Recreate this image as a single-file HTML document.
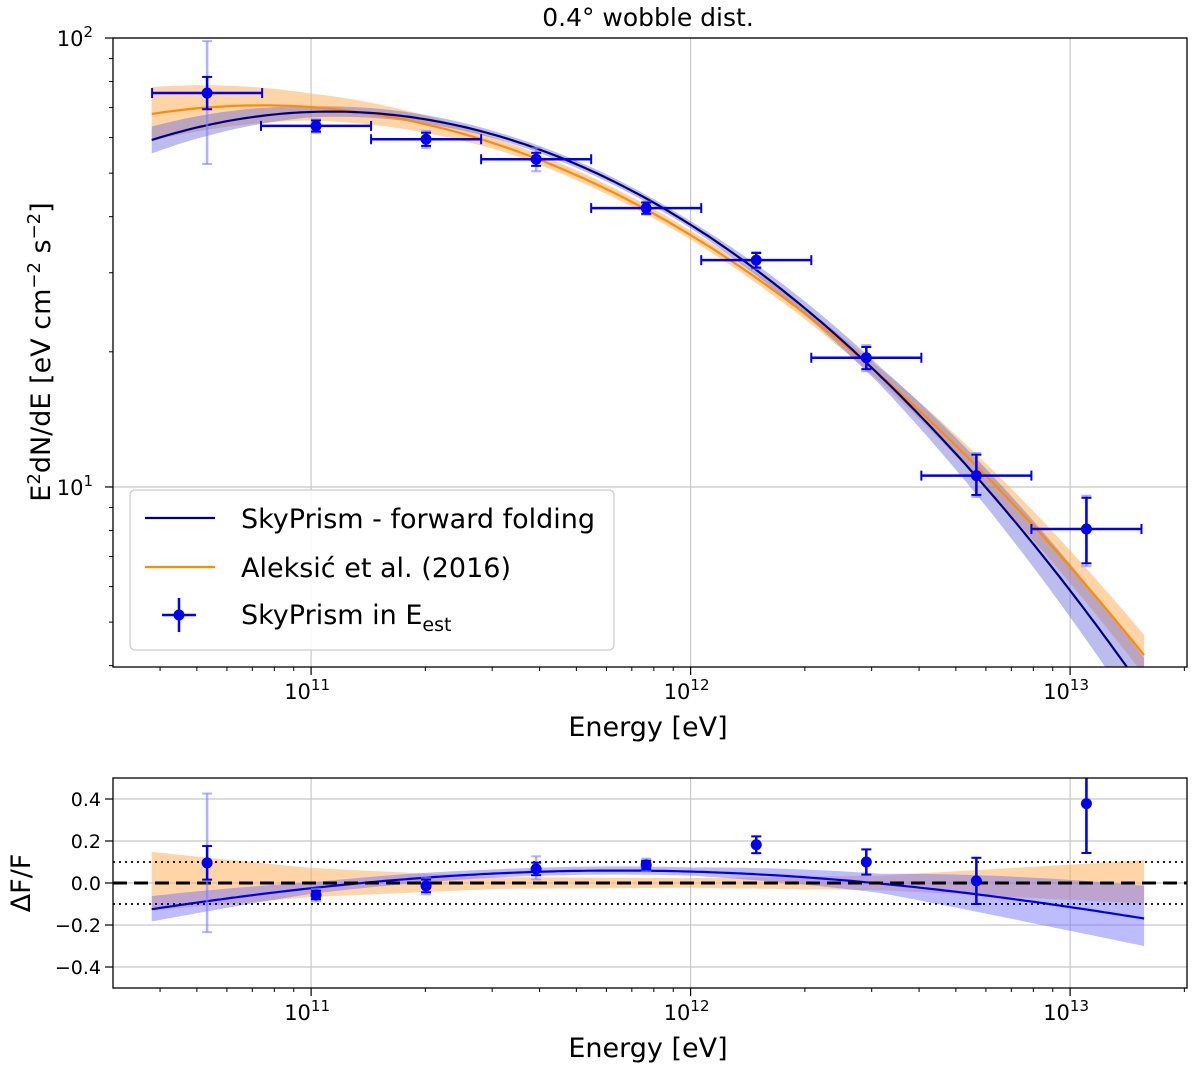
<!DOCTYPE html>
<html><head><meta charset="utf-8"><style>
html,body{margin:0;padding:0;background:#fff}
svg{display:block;font-family:"DejaVu Sans","Liberation Sans",sans-serif}
</style></head><body>
<svg id="fig" width="1200" height="1075" viewBox="0 0 1200 1075" xmlns="http://www.w3.org/2000/svg"></svg>
<script>
// ---- data ----
const pointLogE = [10.726, 11.013, 11.303, 11.593, 11.883, 12.173, 12.463, 12.753, 13.043];
const binHalfDec = [0.145, 0.145, 0.145, 0.145, 0.145, 0.145, 0.145, 0.145, 0.145];
const fluxVals = [75.4, 63.7, 59.5, 53.7, 41.8, 32.0, 19.4, 10.6, 8.06];
const fluxErrStatUp = [6.5, 1.8, 2.0, 1.8, 1.2, 1.2, 1.1, 1.2, 1.4];
const fluxErrStatLo = [6.0, 1.8, 2.0, 1.8, 1.2, 1.2, 1.1, 1.0, 1.3];
const fluxErrSysUp = [23, 2.2, 2.6, 3.2, 1.4, 1.4, 1.3, 1.3, 1.5];
const fluxErrSysLo = [23, 2.2, 2.6, 3.2, 1.4, 1.4, 1.3, 1.1, 1.4];
const residVals = [0.096, -0.057, -0.014, 0.067, 0.086, 0.182, 0.10, 0.01, 0.378];
const residErr = [0.08, 0.02, 0.03, 0.03, 0.02, 0.04, 0.06, 0.11, 0.235];
const residSysUp = [0.33, 0.03, 0.04, 0.06, 0.03, 0.04, 0.06, 0.11, 0.235];
const residSysLo = [0.33, 0.03, 0.04, 0.05, 0.03, 0.04, 0.06, 0.11, 0.235];
const navyParams = [1.584, -0.533, -0.2817];
const orangeParams = [1.561, -0.512, -0.2268];
const bandL = [-1.42, -1.0, -0.5, 0, 0.5, 1.2];
const navyBandW = [0.03, 0.012, 0.008, 0.008, 0.02, 0.075];
const orangeBandW = [0.06, 0.03, 0.012, 0.01, 0.015, 0.045];
const xTickPowers = [11, 12, 13];
const yTickPowers = [1, 2];
const residTicks = [0.4, 0.2, 0.0, -0.2, -0.4];
const modelRange = [10.58, 13.195];

const svg = document.getElementById('fig');
const NS = 'http://www.w3.org/2000/svg';
function el(tag, attrs, parent, text) {
  const e = document.createElementNS(NS, tag);
  for (const k in attrs) e.setAttribute(k, attrs[k]);
  if (text !== undefined) e.textContent = text;
  (parent || svg).appendChild(e);
  return e;
}
const X0 = 113, X1 = 1187, XD0 = 10.478, XD1 = 13.308;
const xs = lg => X0 + (lg - XD0) / (XD1 - XD0) * (X1 - X0);
const T0 = 38, T1 = 667, YD0 = 2, YD1 = 0.599;
const ys = lg => T0 + (YD0 - lg) / (YD0 - YD1) * (T1 - T0);
const B0 = 778, B1 = 988;
const yr = v => B0 + (0.5 - v) / 1.0 * (B1 - B0);
const model = (p, lgE) => { const L = lgE - 12; return p[0] + p[1] * L + p[2] * L * L; };
function interp(xa, ya, x) {
  if (x <= xa[0]) return ya[0];
  for (let i = 1; i < xa.length; i++) if (x <= xa[i]) { const t = (x - xa[i-1]) / (xa[i] - xa[i-1]); return ya[i-1] + t * (ya[i] - ya[i-1]); }
  return ya[ya.length - 1];
}
const samples = []; for (let i = 0; i <= 200; i++) samples.push(modelRange[0] + (modelRange[1] - modelRange[0]) * i / 200);

const defs = el('defs', {});
const c1 = el('clipPath', {id: 'clipTop'}, defs); el('rect', {x: X0, y: T0, width: X1 - X0, height: T1 - T0}, c1);
const c2 = el('clipPath', {id: 'clipBot'}, defs); el('rect', {x: X0, y: B0, width: X1 - X0, height: B1 - B0}, c2);

function drawXAxis(tp, bot, name) {
  const g = el('g', {}, svg);
   
  for (const p of xTickPowers) {
    const x = xs(p);
    el('line', {x1: x, x2: x, y1: tp, y2: bot, stroke: '#c8c8c8', 'stroke-width': 1.2}, g);
    el('line', {x1: x, x2: x, y1: bot, y2: bot + 8, stroke: '#000', 'stroke-width': 1.2}, g);
    const t = el('text', {x: x - 4, y: bot + 32, 'font-size': 21, 'text-anchor': 'middle'}, g, '10');
    el('tspan', {dy: -9, 'font-size': 15}, t, String(p));
  }
  for (let d = 10; d <= 13; d++) for (let m = 2; m <= 9; m++) {
    const lg = d + Math.log10(m); if (lg < XD0 || lg > XD1) continue;
    const x = xs(lg);
    el('line', {x1: x, x2: x, y1: bot, y2: bot + 4, stroke: '#000', 'stroke-width': 1}, g);
  }
}

// ---------- TOP PANEL ----------
drawXAxis(T0, T1, 'spectrum');
for (const p of yTickPowers) {
  const y = ys(p);
  el('line', {x1: X0, x2: X1, y1: y, y2: y, stroke: '#c8c8c8', 'stroke-width': 1.2});
  el('line', {x1: X0 - 8, x2: X0, y1: y, y2: y, stroke: '#000', 'stroke-width': 1.2});
  const t = el('text', {x: X0 - 20, y: y + 8, 'font-size': 21, 'text-anchor': 'end'}, svg, '10');
  el('tspan', {dy: -9, 'font-size': 15}, t, String(p));
}
for (let d = 0; d <= 1; d++) for (let m = 2; m <= 9; m++) {
  const lg = d + Math.log10(m); if (lg < YD1 || lg > YD0) continue;
  const y = ys(lg); el('line', {x1: X0 - 4, x2: X0, y1: y, y2: y, stroke: '#000', 'stroke-width': 1});
}
const gTop = el('g', {'clip-path': 'url(#clipTop)'});


function bandPath(p, W, yfun, rel) {
  const up = samples.map(l => [xs(l), yfun(rel ? (model(p, l) - rel(l)) : model(p, l), +interp(bandL, W, l - 12))]);
  const lo = samples.map(l => [xs(l), yfun(rel ? (model(p, l) - rel(l)) : model(p, l), -interp(bandL, W, l - 12))]).reverse();
  return 'M' + up.concat(lo).map(q => q[0].toFixed(1) + ',' + q[1].toFixed(1)).join('L') + 'Z';
}
const logY = (m, w) => ys(m + w);
let e;
e = el('path', {d: bandPath(orangeParams, orangeBandW, logY), fill: '#ffa94d', opacity: 0.5}, gTop);
 
e = el('path', {d: bandPath(navyParams, navyBandW, logY), fill: '#6b6bd6', opacity: 0.45}, gTop);
 
const linePath = yfun => 'M' + samples.map(l => xs(l).toFixed(1) + ',' + yfun(l).toFixed(1)).join('L');
e = el('path', {d: linePath(l => ys(model(orangeParams, l))), fill: 'none', stroke: '#ff8c00', 'stroke-width': 2.2}, gTop);
 
e = el('path', {d: linePath(l => ys(model(navyParams, l))), fill: 'none', stroke: '#00007f', 'stroke-width': 2.2}, gTop);
 
pointLogE.forEach((lg, i) => {
  const g = el('g', {}, gTop);
   
  const x = xs(lg), y = ys(Math.log10(fluxVals[i]));
  const ysu = ys(Math.log10(fluxVals[i] + fluxErrSysUp[i])), ysl = ys(Math.log10(fluxVals[i] - fluxErrSysLo[i]));
  el('line', {x1: x, x2: x, y1: ysu, y2: ysl, stroke: '#8080ff', 'stroke-width': 2.5, opacity: 0.6}, g);
  el('line', {x1: x - 5, x2: x + 5, y1: ysu, y2: ysu, stroke: '#8080ff', 'stroke-width': 2, opacity: 0.6}, g);
  el('line', {x1: x - 5, x2: x + 5, y1: ysl, y2: ysl, stroke: '#8080ff', 'stroke-width': 2, opacity: 0.6}, g);
  const yu = ys(Math.log10(fluxVals[i] + fluxErrStatUp[i])), yl = ys(Math.log10(fluxVals[i] - fluxErrStatLo[i]));
  el('line', {x1: x, x2: x, y1: yu, y2: yl, stroke: '#0000ee', 'stroke-width': 2.5}, g);
  el('line', {x1: x - 5, x2: x + 5, y1: yu, y2: yu, stroke: '#0000ee', 'stroke-width': 2}, g);
  el('line', {x1: x - 5, x2: x + 5, y1: yl, y2: yl, stroke: '#0000ee', 'stroke-width': 2}, g);
  const xl = xs(lg - binHalfDec[i]), xr = xs(lg + binHalfDec[i]);
  el('line', {x1: xl, x2: xr, y1: y, y2: y, stroke: '#0000ee', 'stroke-width': 2.5}, g);
  el('line', {x1: xl, x2: xl, y1: y - 5, y2: y + 5, stroke: '#0000ee', 'stroke-width': 2}, g);
  el('line', {x1: xr, x2: xr, y1: y - 5, y2: y + 5, stroke: '#0000ee', 'stroke-width': 2}, g);
  el('circle', {cx: x, cy: y, r: 5.5, fill: '#0000ee'}, g);
});
el('rect', {x: X0, y: T0, width: X1 - X0, height: T1 - T0, fill: 'none', stroke: '#000', 'stroke-width': 1.3});
e = el('text', {x: 648, y: 26, 'font-size': 25, 'text-anchor': 'middle'}, svg, '0.4° wobble dist.');
 
e = el('text', {x: 648, y: 736, 'font-size': 27, 'text-anchor': 'middle'}, svg, 'Energy [eV]');
 
e = el('text', {x: 0, y: 0, 'font-size': 27, 'text-anchor': 'middle', transform: 'translate(50,352) rotate(-90)'}, svg);
 
el('tspan', {}, e, 'E'); el('tspan', {dy: -10, 'font-size': 18}, e, '2'); el('tspan', {dy: 10}, e, 'dN/dE [eV cm');
el('tspan', {dy: -10, 'font-size': 18}, e, '−2'); el('tspan', {dy: 10}, e, ' s'); el('tspan', {dy: -10, 'font-size': 18}, e, '−2'); el('tspan', {dy: 10}, e, ']');
const lgd = el('g', {});  
el('rect', {x: 130, y: 490, width: 484, height: 160, rx: 5, fill: '#fff', 'fill-opacity': 0.85, stroke: '#ccc', 'stroke-width': 1.2}, lgd);
let le = el('g', {}, lgd);  
el('line', {x1: 145, x2: 215, y1: 518, y2: 518, stroke: '#00007f', 'stroke-width': 2.2}, le);
el('text', {x: 241, y: 528, 'font-size': 27}, le, 'SkyPrism - forward folding');
le = el('g', {}, lgd);  
el('line', {x1: 145, x2: 215, y1: 567, y2: 567, stroke: '#ff8c00', 'stroke-width': 2.2}, le);
el('text', {x: 241, y: 577, 'font-size': 27}, le, 'Aleksić et al. (2016)');
le = el('g', {}, lgd);  
el('line', {x1: 162, x2: 196, y1: 615, y2: 615, stroke: '#0000ee', 'stroke-width': 2.5}, le);
el('line', {x1: 179, x2: 179, y1: 598, y2: 632, stroke: '#0000ee', 'stroke-width': 2.5}, le);
el('circle', {cx: 179, cy: 615, r: 5.5, fill: '#0000ee'}, le);
const lt = el('text', {x: 241, y: 624, 'font-size': 27}, le, 'SkyPrism in E');
el('tspan', {dy: 7, 'font-size': 19}, lt, 'est');

// ---------- BOTTOM PANEL ----------
drawXAxis(B0, B1, 'residual');
for (const v of residTicks) {
  const y = yr(v);
  el('line', {x1: X0, x2: X1, y1: y, y2: y, stroke: '#c8c8c8', 'stroke-width': 1.2});
  el('line', {x1: X0 - 8, x2: X0, y1: y, y2: y, stroke: '#000', 'stroke-width': 1.2});
  el('text', {x: X0 - 12, y: y + 7, 'font-size': 19, 'text-anchor': 'end'}, svg, (v < 0 ? '−' : '') + Math.abs(v).toFixed(1));
}
const gBot = el('g', {'clip-path': 'url(#clipBot)'});


const relO = l => model(orangeParams, l);
const resY = (m, w) => yr(Math.pow(10, m + w) - 1);
e = el('path', {d: bandPath(orangeParams, orangeBandW, resY, relO), fill: '#ffa94d', opacity: 0.5}, gBot);
 
e = el('path', {d: bandPath(navyParams, navyBandW, resY, relO), fill: '#6b6bff', opacity: 0.45}, gBot);
 
e = el('path', {d: linePath(l => yr(Math.pow(10, model(navyParams, l) - relO(l)) - 1)), fill: 'none', stroke: '#0000ee', 'stroke-width': 2.2}, gBot);
 
for (const v of [0.1, -0.1]) el('line', {x1: X0, x2: X1, y1: yr(v), y2: yr(v), stroke: '#000', 'stroke-width': 1.8, 'stroke-dasharray': '2,4'}, gBot);
e = el('line', {x1: X0, x2: X1, y1: yr(0), y2: yr(0), stroke: '#000', 'stroke-width': 3, 'stroke-dasharray': '14,7'}, gBot);
 
pointLogE.forEach((lgE, i) => {
  const g = el('g', {}, gBot);
   
  const x = xs(lgE), y = yr(residVals[i]);
  const su = yr(residVals[i] + residSysUp[i]), sl = yr(residVals[i] - residSysLo[i]);
  el('line', {x1: x, x2: x, y1: su, y2: sl, stroke: '#8080ff', 'stroke-width': 2.5, opacity: 0.6}, g);
  el('line', {x1: x - 5, x2: x + 5, y1: su, y2: su, stroke: '#8080ff', 'stroke-width': 2, opacity: 0.6}, g);
  el('line', {x1: x - 5, x2: x + 5, y1: sl, y2: sl, stroke: '#8080ff', 'stroke-width': 2, opacity: 0.6}, g);
  const u = yr(residVals[i] + residErr[i]), d = yr(residVals[i] - residErr[i]);
  el('line', {x1: x, x2: x, y1: u, y2: d, stroke: '#0000ee', 'stroke-width': 2.5}, g);
  el('line', {x1: x - 5, x2: x + 5, y1: u, y2: u, stroke: '#0000ee', 'stroke-width': 2}, g);
  el('line', {x1: x - 5, x2: x + 5, y1: d, y2: d, stroke: '#0000ee', 'stroke-width': 2}, g);
  el('circle', {cx: x, cy: y, r: 5.5, fill: '#0000ee'}, g);
});
el('rect', {x: X0, y: B0, width: X1 - X0, height: B1 - B0, fill: 'none', stroke: '#000', 'stroke-width': 1.3});
e = el('text', {x: 648, y: 1057, 'font-size': 27, 'text-anchor': 'middle'}, svg, 'Energy [eV]');
 
e = el('text', {x: 0, y: 0, 'font-size': 27, 'text-anchor': 'middle', transform: 'translate(30,883) rotate(-90)'}, svg, 'ΔF/F');
 
</script>
</body></html>
